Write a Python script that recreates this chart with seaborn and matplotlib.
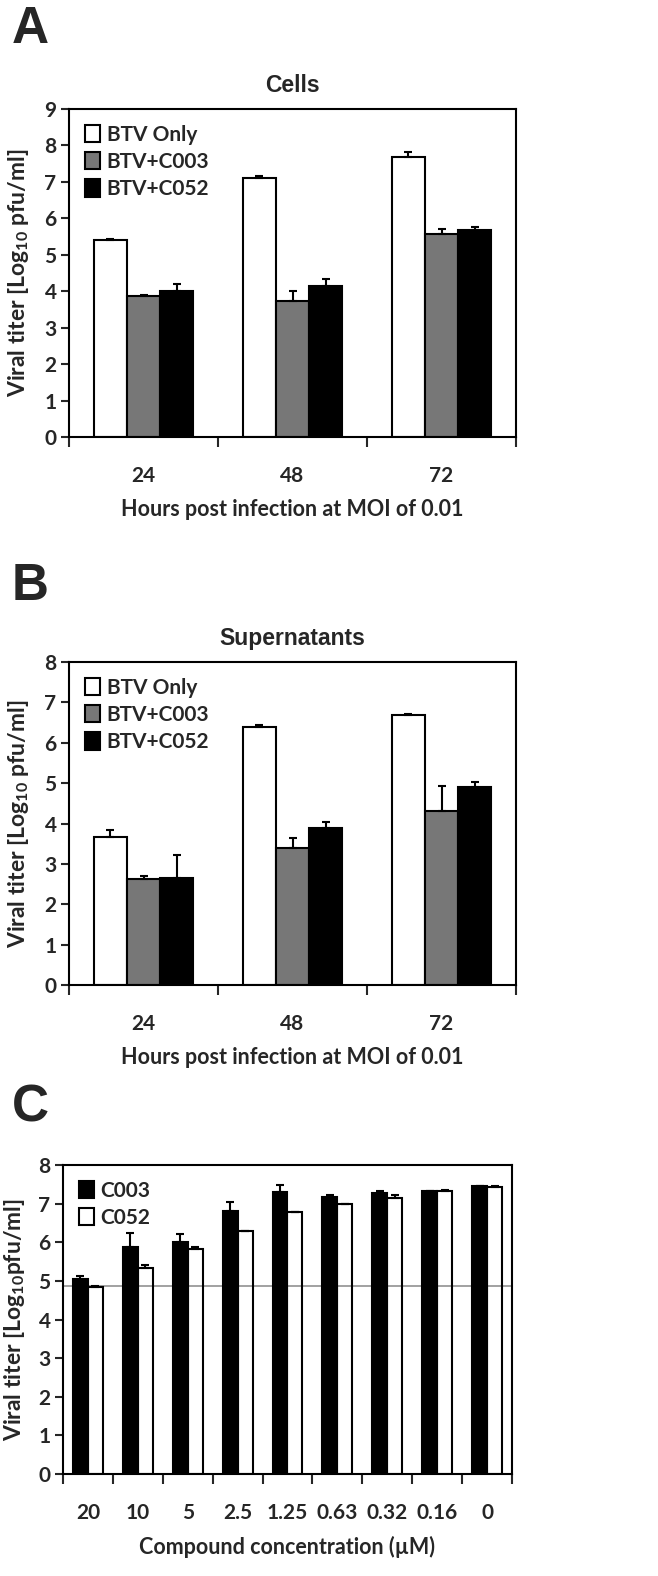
import matplotlib
matplotlib.use("Agg")
import matplotlib.pyplot as plt
import numpy as np
import pandas as pd
import seaborn as sns
from matplotlib.patches import Patch

sns.set_theme(style="white")
plt.rcParams["font.family"] = ["Lato", "DejaVu Sans"]
plt.rcParams["font.weight"] = "bold"
plt.rcParams["axes.labelweight"] = "bold"
plt.rcParams["mathtext.fontset"] = "custom"
plt.rcParams["mathtext.rm"] = "Lato:bold"
plt.rcParams["mathtext.it"] = "Lato:bold"
plt.rcParams["mathtext.bf"] = "Lato:bold"

# panel A / B
hours = ["24", "48", "72"]
groups_ab = ["BTV Only", "BTV+C003", "BTV+C052"]
colors_ab = ["white", "#777777", "black"]

cells_btv = [5.41, 7.10, 7.69]
cells_c003 = [3.87, 3.72, 5.57]
cells_c052 = [4.02, 4.15, 5.68]
cells_btv_err = [0.02, 0.05, 0.14]
cells_c003_err = [0.02, 0.30, 0.14]
cells_c052_err = [0.17, 0.18, 0.08]

sup_btv = [3.67, 6.39, 6.70]
sup_c003 = [2.63, 3.39, 4.31]
sup_c052 = [2.66, 3.88, 4.91]
sup_btv_err = [0.18, 0.04, 0.02]
sup_c003_err = [0.06, 0.26, 0.62]
sup_c052_err = [0.57, 0.16, 0.13]

# panel C
conc = ["20", "10", "5", "2.5", "1.25", "0.63", "0.32", "0.16", "0"]
groups_c = ["C003", "C052"]
colors_c = ["black", "white"]
c003 = [5.04, 5.87, 6.01, 6.81, 7.30, 7.16, 7.28, 7.32, 7.45]
c052 = [4.84, 5.33, 5.83, 6.28, 6.78, 6.98, 7.15, 7.33, 7.43]
c003_err = [0.09, 0.36, 0.20, 0.23, 0.19, 0.07, 0.04, 0.01, 0.01]
c052_err = [0.02, 0.07, 0.04, 0.01, 0.01, 0.01, 0.07, 0.01, 0.03]
cutoff = 4.86

LW = 1.5
TITLE_FONT = ["Liberation Sans", "DejaVu Sans"]


def grouped_bars(ax, cats, groups, colors, values, errors, width, ymax, ylabel, open_group=None):
    rows = [(c, g, v) for g, vals in zip(groups, values) for c, v in zip(cats, vals)]
    df = pd.DataFrame(rows, columns=["x", "group", "titer"])
    sns.barplot(data=df, x="x", y="titer", hue="group", order=cats, hue_order=groups,
                palette=dict(zip(groups, colors)), saturation=1, width=width, gap=0,
                edgecolor="black", linewidth=LW, errorbar=None, legend=False, ax=ax)
    for container, errs in zip(ax.containers, errors):
        xs = [b.get_x() + b.get_width() / 2 for b in container]
        ys = [b.get_height() for b in container]
        ax.errorbar(xs, ys, yerr=[np.zeros(len(errs)), errs], fmt="none", ecolor="black",
                    elinewidth=LW, capsize=3, capthick=LW, zorder=1)
    if open_group is not None:
        for b in ax.containers[groups.index(open_group)]:
            b.set_facecolor("none")

    n = len(cats)
    ax.set_xlim(-0.5, n - 0.5)
    ax.set_ylim(0, ymax)
    ax.set_yticks(range(ymax + 1))
    ax.set_xticks(np.arange(n + 1) - 0.5)
    ax.set_xticklabels([])
    ax.set_xticks(range(n), cats, minor=True)
    ax.tick_params(axis="x", which="major", direction="out", length=7, width=LW, bottom=True)
    ax.tick_params(axis="x", which="minor", length=0, pad=21, labelsize=15)
    ax.tick_params(axis="y", direction="out", length=6, width=LW, left=True, pad=3, labelsize=15)
    for s in ax.spines.values():
        s.set_color("black")
        s.set_linewidth(LW)
    ax.set_ylabel(ylabel, fontsize=16.5)
    ax.yaxis.set_label_coords(-0.085, 0.5)

    handles = [Patch(facecolor=c, edgecolor="black", linewidth=LW) for c in colors]
    ax.legend(handles, groups, loc="upper left", frameon=False, fontsize=15,
              handlelength=0.75, handleheight=0.9, handletextpad=0.3,
              labelspacing=0.35, borderaxespad=0.45, borderpad=0.3)


fig = plt.figure(figsize=(6.58, 15.76), dpi=100)
ax_a = fig.add_axes([0.1049, 0.7227, 0.6793, 0.2081])
ax_b = fig.add_axes([0.1049, 0.3750, 0.6793, 0.2049])
ax_c = fig.add_axes([0.0957, 0.0647, 0.6824, 0.1961])

grouped_bars(ax_a, hours, groups_ab, colors_ab,
             [cells_btv, cells_c003, cells_c052],
             [cells_btv_err, cells_c003_err, cells_c052_err],
             0.67, 9, "Viral titer [Log$_{10}$ pfu/ml]")
ax_a.set_title("Cells", fontsize=16.5, fontweight="bold", family=TITLE_FONT, pad=12)
ax_a.set_xlabel("Hours post infection at MOI of 0.01", fontsize=15.5, labelpad=9)

grouped_bars(ax_b, hours, groups_ab, colors_ab,
             [sup_btv, sup_c003, sup_c052],
             [sup_btv_err, sup_c003_err, sup_c052_err],
             0.67, 8, "Viral titer [Log$_{10}$ pfu/ml]")
ax_b.set_title("Supernatants", fontsize=16.5, fontweight="bold", family=TITLE_FONT, pad=12)
ax_b.set_xlabel("Hours post infection at MOI of 0.01", fontsize=15.5, labelpad=9)

ax_c.axhline(cutoff, color="#888888", linewidth=1.1, zorder=0.5)
grouped_bars(ax_c, conc, groups_c, colors_c, [c003, c052], [c003_err, c052_err],
             0.6, 8, "Viral titer [Log$_{10}$pfu/ml]", open_group="C052")
ax_c.set_xlabel("Compound concentration (\u00b5M)", fontsize=15.5, labelpad=9)
ax_c.yaxis.set_label_coords(-0.08, 0.5)

for label, y in [("A", 0.981), ("B", 0.628), ("C", 0.297)]:
    fig.text(0.046, y, label, fontsize=37, fontweight="bold", family=TITLE_FONT,
             ha="center", va="center")

fig.savefig("out.png", dpi=100)
